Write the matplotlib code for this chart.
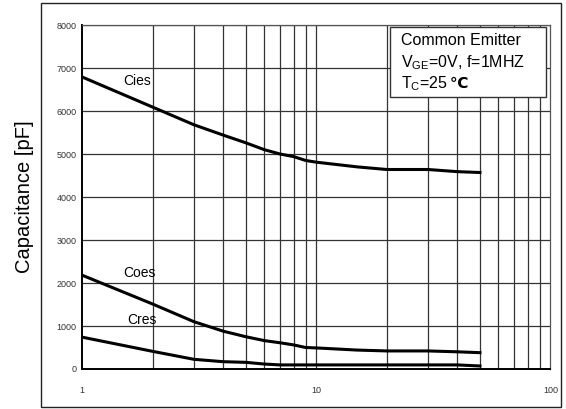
import matplotlib
matplotlib.use("Agg")
import matplotlib.pyplot as plt
from matplotlib.patches import Rectangle
from matplotlib.ticker import FixedLocator, NullFormatter

plt.rcParams["font.family"] = ["Liberation Sans", "DejaVu Sans"]
plt.rcParams["mathtext.fontset"] = "custom"
plt.rcParams["mathtext.rm"] = "Liberation Sans"

# collector-emitter voltage [V] and capacitances [pF]
vce = [1, 2, 3, 4, 5, 6, 7, 8, 9, 10, 15, 20, 30, 40, 50]
cies = [6790, 6090, 5680, 5440, 5260, 5100, 5000, 4940, 4850, 4810, 4700, 4640, 4640, 4590, 4570]
coes = [2180, 1510, 1100, 880, 750, 660, 610, 560, 500, 490, 440, 420, 420, 400, 380]
cres = [740, 410, 225, 170, 155, 115, 95, 95, 95, 95, 95, 95, 95, 95, 70]

y_ticks = [0, 1000, 2000, 3000, 4000, 5000, 6000, 7000, 8000]
x_ticks = [1, 10, 100]
x_grid = [2, 3, 4, 5, 6, 7, 8, 9, 20, 30, 40, 50, 60, 70, 80, 90]

fig = plt.figure(figsize=(5.66, 4.09), dpi=100)
fig.patch.set_facecolor("white")

# outer frame
fig.patches.append(Rectangle((0.073, 0.005), 0.918, 0.987, transform=fig.transFigure,
                             fill=False, edgecolor="#222222", linewidth=1.0))

ax = fig.add_axes([0.1454, 0.0978, 0.827, 0.841])
ax.set_xscale("log")
ax.set_xlim(1, 100)
ax.set_ylim(0, 8000)

for xv in x_grid + [10]:
    ax.axvline(xv, color="#333333", linewidth=0.9, zorder=1)
for yv in y_ticks[1:]:
    ax.axhline(yv, color="#333333", linewidth=0.9, zorder=1)

ax.plot(vce, cies, color="black", linewidth=2.2, zorder=3)
ax.plot(vce, coes, color="black", linewidth=2.2, zorder=3)
ax.plot(vce, cres, color="black", linewidth=2.2, zorder=3)

ax.text(1.5, 6700, "Cies", fontsize=10, va="center", ha="left", zorder=4)
ax.text(1.5, 2230, "Coes", fontsize=10, va="center", ha="left", zorder=4)
ax.text(1.55, 1150, "Cres", fontsize=10, va="center", ha="left", zorder=4)

ax.xaxis.set_major_locator(FixedLocator(x_ticks))
ax.xaxis.set_minor_formatter(NullFormatter())
ax.set_xticklabels(["1", "10", "100"])
ax.set_yticks(y_ticks)
ax.tick_params(axis="both", which="both", length=0, labelsize=6.5,
               labelcolor="#333333", pad=12)
ax.tick_params(axis="y", pad=4)

for side in ["top", "right"]:
    ax.spines[side].set_color("#555555")
    ax.spines[side].set_linewidth(0.9)
for side in ["left", "bottom"]:
    ax.spines[side].set_color("black")
    ax.spines[side].set_linewidth(1.4)

ax.set_ylabel("Capacitance [pF]", fontsize=14.5, labelpad=16)

# condition box
ax.add_patch(Rectangle((0.657, 0.79), 0.333, 0.204, transform=ax.transAxes,
                       facecolor="white", edgecolor="#333333", linewidth=1.0, zorder=5))
ax.text(0.68, 0.955, "Common Emitter", transform=ax.transAxes, fontsize=11.5,
        va="center", ha="left", zorder=6)
ax.text(0.68, 0.892, r"V$_{\mathrm{GE}}$=0V, f=1MHZ", transform=ax.transAxes,
        fontsize=11.5, va="center", ha="left", zorder=6)
tc = ax.text(0.68, 0.83, r"T$_{\mathrm{C}}$=25", transform=ax.transAxes,
             fontsize=11.5, va="center", ha="left", zorder=6)
ax.annotate("\u2103", xy=(1, 0.5), xycoords=tc, xytext=(1.5, 0),
            textcoords="offset points", fontsize=11, fontweight="bold",
            va="center", ha="left", zorder=6, family=["DejaVu Sans"])

fig.savefig("out.png", dpi=100, facecolor="white")
plt.close(fig)
